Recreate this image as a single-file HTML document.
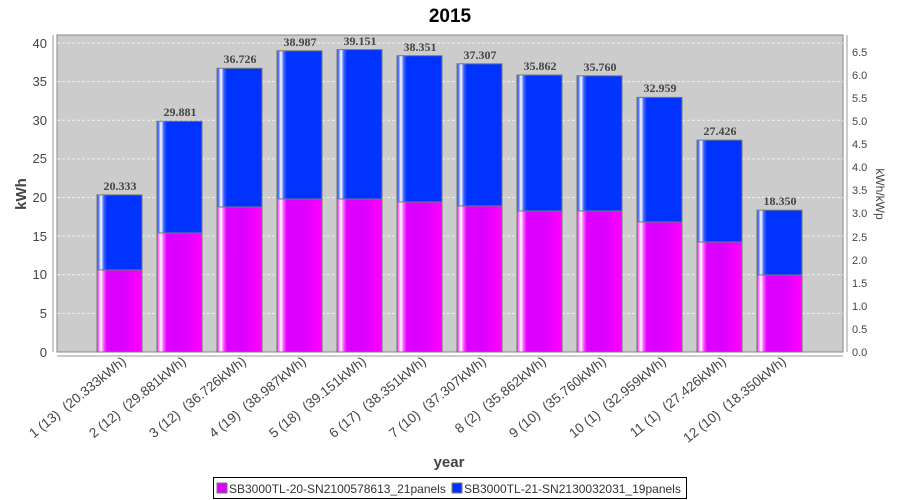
<!DOCTYPE html>
<html><head><meta charset="utf-8"><style>body{margin:0;background:#fff}svg{display:block}</style></head>
<body>
<svg width="900" height="500" xmlns="http://www.w3.org/2000/svg" font-family="Liberation Sans, sans-serif">
<defs>
<linearGradient id="gb" x1="0" x2="1" y1="0" y2="0">
<stop offset="0" stop-color="#0033ff"/><stop offset="0.04" stop-color="#6688ff"/><stop offset="0.09" stop-color="#ffffff"/><stop offset="0.15" stop-color="#4466ff"/><stop offset="0.22" stop-color="#0033ff"/><stop offset="1" stop-color="#0033ff"/></linearGradient>
<linearGradient id="gm" x1="0" x2="1" y1="0" y2="0">
<stop offset="0" stop-color="#ee00ff"/><stop offset="0.04" stop-color="#ff88ff"/><stop offset="0.09" stop-color="#ffffff"/><stop offset="0.15" stop-color="#ff55ff"/><stop offset="0.22" stop-color="#dd00ff"/><stop offset="0.6" stop-color="#dd00ff"/><stop offset="1" stop-color="#ff00ff"/></linearGradient>
</defs>
<text x="450" y="22" text-anchor="middle" font-size="19" font-weight="bold">2015</text>
<rect x="57" y="35" width="786" height="317" fill="#cccccc" stroke="#888" stroke-width="1"/>
<g stroke="#eeeeee" stroke-dasharray="3,2" stroke-width="1">
<line x1="57" x2="843" y1="313.4" y2="313.4"/><line x1="57" x2="843" y1="274.75" y2="274.75"/><line x1="57" x2="843" y1="236.1" y2="236.1"/><line x1="57" x2="843" y1="197.5" y2="197.5"/><line x1="57" x2="843" y1="158.9" y2="158.9"/><line x1="57" x2="843" y1="120.25" y2="120.25"/><line x1="57" x2="843" y1="81.6" y2="81.6"/><line x1="57" x2="843" y1="43" y2="43"/>
</g>
<g stroke="#777" stroke-width="1">
<rect x="97" y="194.9" width="45" height="75.1" fill="url(#gb)"/><rect x="97" y="270" width="45" height="82" fill="url(#gm)"/>
<rect x="157" y="121.2" width="45" height="111.8" fill="url(#gb)"/><rect x="157" y="233" width="45" height="119" fill="url(#gm)"/>
<rect x="217" y="68.3" width="45" height="138.7" fill="url(#gb)"/><rect x="217" y="207" width="45" height="145" fill="url(#gm)"/>
<rect x="277" y="50.8" width="45" height="148.2" fill="url(#gb)"/><rect x="277" y="199" width="45" height="153" fill="url(#gm)"/>
<rect x="337" y="49.6" width="45" height="149.4" fill="url(#gb)"/><rect x="337" y="199" width="45" height="153" fill="url(#gm)"/>
<rect x="397" y="55.7" width="45" height="146.3" fill="url(#gb)"/><rect x="397" y="202" width="45" height="150" fill="url(#gm)"/>
<rect x="457" y="63.8" width="45" height="142.2" fill="url(#gb)"/><rect x="457" y="206" width="45" height="146" fill="url(#gm)"/>
<rect x="517" y="75" width="45" height="136" fill="url(#gb)"/><rect x="517" y="211" width="45" height="141" fill="url(#gm)"/>
<rect x="577" y="75.8" width="45" height="135.2" fill="url(#gb)"/><rect x="577" y="211" width="45" height="141" fill="url(#gm)"/>
<rect x="637" y="97.4" width="45" height="124.6" fill="url(#gb)"/><rect x="637" y="222" width="45" height="130" fill="url(#gm)"/>
<rect x="697" y="140.1" width="45" height="101.9" fill="url(#gb)"/><rect x="697" y="242" width="45" height="110" fill="url(#gm)"/>
<rect x="757" y="210.2" width="45" height="64.8" fill="url(#gb)"/><rect x="757" y="275" width="45" height="77" fill="url(#gm)"/>
</g>
<g font-family="Liberation Serif, serif" font-weight="bold" font-size="12" fill="#444" text-anchor="middle">
<text x="120" y="190">20.333</text><text x="180" y="116">29.881</text><text x="240" y="63">36.726</text><text x="300" y="46">38.987</text><text x="360" y="45">39.151</text><text x="420" y="51">38.351</text><text x="480" y="59">37.307</text><text x="540" y="70">35.862</text><text x="600" y="71">35.760</text><text x="660" y="92">32.959</text><text x="720" y="135">27.426</text><text x="780" y="205">18.350</text>
</g>
<g stroke="#999" stroke-width="1">
<line x1="53" x2="53" y1="35" y2="352"/>
<line x1="57" x2="843" y1="356" y2="356"/>
<line x1="847" x2="847" y1="35" y2="352"/>
</g>
<g font-size="13" fill="#444" text-anchor="end">
<text x="47" y="357">0</text><text x="47" y="318">5</text><text x="47" y="279">10</text><text x="47" y="241">15</text><text x="47" y="202">20</text><text x="47" y="163">25</text><text x="47" y="125">30</text><text x="47" y="86">35</text><text x="47" y="48">40</text>
</g>
<g font-size="11" fill="#444">
<text x="852" y="356">0.0</text><text x="852" y="333">0.5</text><text x="852" y="310">1.0</text><text x="852" y="287">1.5</text><text x="852" y="264">2.0</text><text x="852" y="241">2.5</text><text x="852" y="217">3.0</text><text x="852" y="194">3.5</text><text x="852" y="171">4.0</text><text x="852" y="148">4.5</text><text x="852" y="125">5.0</text><text x="852" y="102">5.5</text><text x="852" y="79">6.0</text><text x="852" y="56">6.5</text>
</g>
<text transform="translate(26,194) rotate(-90)" text-anchor="middle" font-size="15" font-weight="bold" fill="#444">kWh</text>
<text transform="translate(876,194) rotate(90)" text-anchor="middle" font-size="12" fill="#444">kWh/kWp</text>
<g font-size="13.5" fill="#444" text-anchor="end">
<text transform="translate(127,363) rotate(-39)">1 (13) &#160;(20.333kWh)</text>
<text transform="translate(187,363) rotate(-39)">2 (12) &#160;(29.881kWh)</text>
<text transform="translate(247,363) rotate(-39)">3 (12) &#160;(36.726kWh)</text>
<text transform="translate(307,363) rotate(-39)">4 (19) &#160;(38.987kWh)</text>
<text transform="translate(367,363) rotate(-39)">5 (18) &#160;(39.151kWh)</text>
<text transform="translate(427,363) rotate(-39)">6 (17) &#160;(38.351kWh)</text>
<text transform="translate(487,363) rotate(-39)">7 (10) &#160;(37.307kWh)</text>
<text transform="translate(547,363) rotate(-39)">8 (2) &#160;(35.862kWh)</text>
<text transform="translate(607,363) rotate(-39)">9 (10) &#160;(35.760kWh)</text>
<text transform="translate(667,363) rotate(-39)">10 (1) &#160;(32.959kWh)</text>
<text transform="translate(727,363) rotate(-39)">11 (1) &#160;(27.426kWh)</text>
<text transform="translate(787,363) rotate(-39)">12 (10) &#160;(18.350kWh)</text>
</g>
<text x="449" y="467" text-anchor="middle" font-size="15" font-weight="bold" fill="#444">year</text>
<rect x="213.5" y="477.5" width="473" height="21" fill="#fff" stroke="#000"/>
<rect x="217" y="483" width="10" height="10" fill="#dd00ff" stroke="#777"/>
<text x="229" y="493" font-size="12" fill="#333">SB3000TL-20-SN2100578613_21panels</text>
<rect x="452" y="483" width="10" height="10" fill="#0033ff" stroke="#777"/>
<text x="464" y="493" font-size="12" fill="#333">SB3000TL-21-SN2130032031_19panels</text>
</svg>
</body></html>
